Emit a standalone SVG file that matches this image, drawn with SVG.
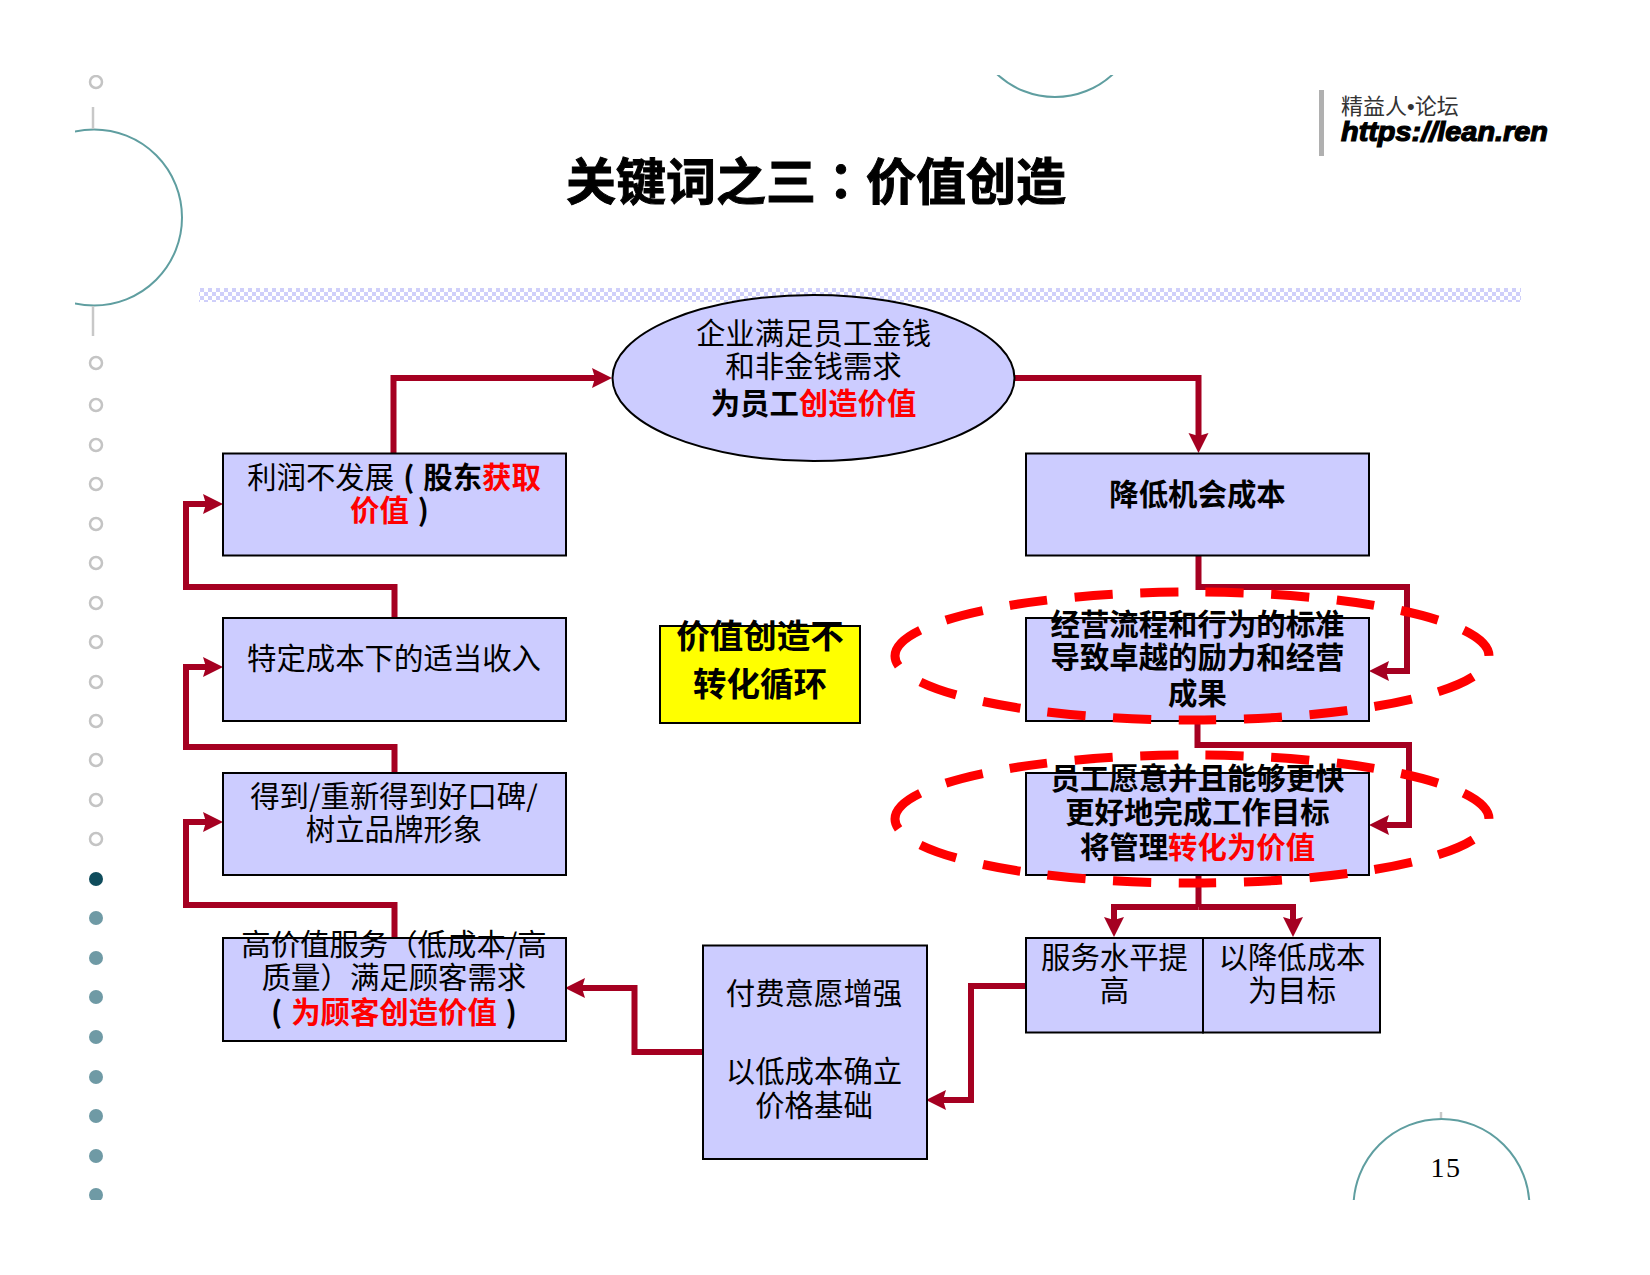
<svg xmlns="http://www.w3.org/2000/svg" width="1650" height="1275" viewBox="0 0 1650 1275">
<style>
text{font-family:"Noto Sans CJK SC","Liberation Sans",sans-serif;font-size:29.4px;fill:#000;text-anchor:middle}
.b{font-weight:700}
.r{font-weight:700;fill:#f00}
.box{fill:#ccf;stroke:#000;stroke-width:2}
.conn{fill:none;stroke:#a50021;stroke-width:6;stroke-linejoin:miter}
.arr{marker-end:url(#ah)}
.dash{fill:none;stroke:#f00;stroke-width:9;stroke-dasharray:38 27.500}
.deco{fill:none;stroke:#5f9ea0;stroke-width:2}
.tick{stroke:#c8c8c8;stroke-width:2.5}
.ho{fill:#fff;stroke:#c4c4c4;stroke-width:2.5}
.fi{fill:#6f9aa5}
</style>
<defs>
<marker id="ah" markerUnits="userSpaceOnUse" markerWidth="22" markerHeight="22" refX="8" refY="10" orient="auto"><path d="M0 0L20 10L0 20L3 10Z" fill="#a50021"/></marker>
<pattern id="chk" width="8" height="8" patternUnits="userSpaceOnUse"><rect width="8" height="8" fill="#fff"/><rect width="4" height="4" fill="#cfcffa"/><rect x="4" y="4" width="4" height="4" fill="#cfcffa"/></pattern>
<clipPath id="pg"><rect x="75" y="75" width="1500" height="1125"/></clipPath>
</defs>
<rect width="1650" height="1275" fill="#fff"/>
<g id="decoration" clip-path="url(#pg)">
<circle class="deco" cx="94" cy="217.5" r="88"/>
<circle class="deco" cx="1055" cy="12" r="85"/>
<circle class="deco" cx="1441.5" cy="1207" r="88"/>
<line class="tick" x1="93" y1="107" x2="93" y2="129"/>
<line class="tick" x1="93" y1="306" x2="93" y2="336"/>
<line class="tick" x1="1441" y1="1112" x2="1441" y2="1118"/>
<g class="ho">
<circle cx="96" cy="82" r="6"/><circle cx="96" cy="363" r="6"/><circle cx="96" cy="405" r="6"/><circle cx="96" cy="445" r="6"/><circle cx="96" cy="484" r="6"/><circle cx="96" cy="524" r="6"/><circle cx="96" cy="563" r="6"/><circle cx="96" cy="603" r="6"/><circle cx="96" cy="642" r="6"/><circle cx="96" cy="682" r="6"/><circle cx="96" cy="721" r="6"/><circle cx="96" cy="760" r="6"/><circle cx="96" cy="800" r="6"/><circle cx="96" cy="839" r="6"/>
</g>
<circle cx="96" cy="879" r="7" fill="#0f4c5c"/>
<g class="fi">
<circle cx="96" cy="918" r="7"/><circle cx="96" cy="958" r="7"/><circle cx="96" cy="997" r="7"/><circle cx="96" cy="1037" r="7"/><circle cx="96" cy="1077" r="7"/><circle cx="96" cy="1116" r="7"/><circle cx="96" cy="1156" r="7"/><circle cx="96" cy="1195" r="7"/>
</g>
</g>
<rect id="band" x="199" y="288" width="1322" height="14" fill="url(#chk)"/>
<g id="logo">
<rect x="1319" y="90" width="5" height="66" fill="#b0b0b0"/>
<text x="1341" y="114" style="font-size:22px;text-anchor:start;fill:#333">精益人<tspan style="font-family:'Liberation Sans',sans-serif">•</tspan>论坛</text>
<text x="1341" y="141" textLength="207" lengthAdjust="spacingAndGlyphs" style="font-family:'Liberation Sans',sans-serif;font-size:27px;font-weight:700;font-style:italic;text-anchor:start;stroke:#000;stroke-width:1.200">https://lean.ren</text>
</g>
<text id="title" x="816" y="200" class="b" style="font-size:50px;stroke:#000;stroke-width:1">关键词之三<tspan style="font-family:'Noto Sans CJK TC',sans-serif">：</tspan>价值创造</text>
<text id="page" x="1446" y="1177" style="font-family:'Liberation Serif',serif;font-size:28px;letter-spacing:1.500px">15</text>
<g id="connectors">
<path class="conn arr" d="M393.5 453V378H600"/>
<path class="conn arr" d="M1014 378H1198.500V441"/>
<path class="conn arr" d="M1198.500 555V587H1407V671H1381"/>
<path class="conn arr" d="M1197.500 721V745H1409V825H1381"/>
<path class="conn" d="M1198.500 874V907"/>
<path class="conn arr" d="M1198.500 907H1114V925"/>
<path class="conn arr" d="M1198.500 907H1293V925"/>
<path class="conn arr" d="M1026 986H971V1100H938"/>
<path class="conn arr" d="M703 1052H634.500V988H577"/>
<path class="conn arr" d="M394.500 938V905H186V822H211"/>
<path class="conn arr" d="M394.500 772V747H186V667H211"/>
<path class="conn arr" d="M394.500 618V587H186V504H211"/>
</g>
<g id="n-ellipse"><ellipse cx="813.500" cy="378" rx="201" ry="83" class="box"/>
<text x="813.500" y="344">企业满足员工金钱</text><text x="813.500" y="377">和非金钱需求</text>
<text x="813.500" y="414" class="b">为员工<tspan class="r">创造价值</tspan></text></g>
<g id="n-profit"><rect x="223" y="453.500" width="343" height="102" class="box"/>
<text x="394" y="488">利润不发展<tspan class="b" dx="9">(</tspan><tspan class="b" dx="9">股东</tspan><tspan class="r">获取</tspan></text>
<text x="389.500" y="521"><tspan class="r">价值</tspan><tspan class="b" dx="9">)</tspan></text></g>
<g id="n-income"><rect x="223" y="618" width="343" height="103" class="box"/>
<text x="394" y="669">特定成本下的适当收入</text></g>
<g id="n-brand"><rect x="223" y="773" width="343" height="102" class="box"/>
<text x="394" y="807">得到/重新得到好口碑/</text><text x="394" y="840">树立品牌形象</text></g>
<g id="n-service"><rect x="223" y="938" width="343" height="103" class="box"/>
<text x="394" y="955">高价值服务（低成本/高</text><text x="394" y="988">质量）满足顾客需求</text>
<text x="394" y="1023" class="b">(<tspan class="r" dx="9">为顾客创造价值</tspan><tspan dx="9">)</tspan></text></g>
<g id="n-pay"><rect x="703" y="945.500" width="224" height="213.500" class="box"/>
<text x="814" y="1004">付费意愿增强</text><text x="814" y="1082">以低成本确立</text><text x="814" y="1116">价格基础</text></g>
<g id="n-loop"><rect x="660" y="626" width="200" height="97" fill="#ff0" stroke="#000" stroke-width="2"/>
<text x="760" y="648" class="b" style="font-size:33.500px">价值创造不</text><text x="760" y="696" class="b" style="font-size:33.500px">转化循环</text></g>
<g id="n-cost"><rect x="1026" y="453.500" width="343" height="102" class="box"/>
<text x="1197.500" y="505" class="b">降低机会成本</text></g>
<g id="n-process"><rect x="1026" y="618" width="343" height="103" class="box"/>
<text x="1197.500" y="635" class="b">经营流程和行为的标准</text><text x="1197.500" y="668" class="b">导致卓越的励力和经营</text><text x="1197.500" y="704" class="b">成果</text></g>
<g id="n-staff"><rect x="1026" y="773" width="343" height="102" class="box"/>
<text x="1197.500" y="789" class="b">员工愿意并且能够更快</text><text x="1197.500" y="823" class="b">更好地完成工作目标</text><text x="1197.500" y="858" class="b">将管理<tspan class="r">转化为价值</tspan></text></g>
<g id="n-level"><rect x="1026" y="938" width="177" height="94.500" class="box"/>
<text x="1114.500" y="968">服务水平提</text><text x="1114.500" y="1001">高</text></g>
<g id="n-target"><rect x="1203" y="938" width="177" height="94.500" class="box"/>
<text x="1292" y="968">以降低成本</text><text x="1292" y="1001">为目标</text></g>
<g id="highlights">
<path class="dash" d="M895 656A297 64 0 1 1 1489 656A297 64 0 1 1 895 656Z"/>
<path class="dash" d="M895 819A297 64 0 1 1 1489 819A297 64 0 1 1 895 819Z"/>
</g>
</svg>
